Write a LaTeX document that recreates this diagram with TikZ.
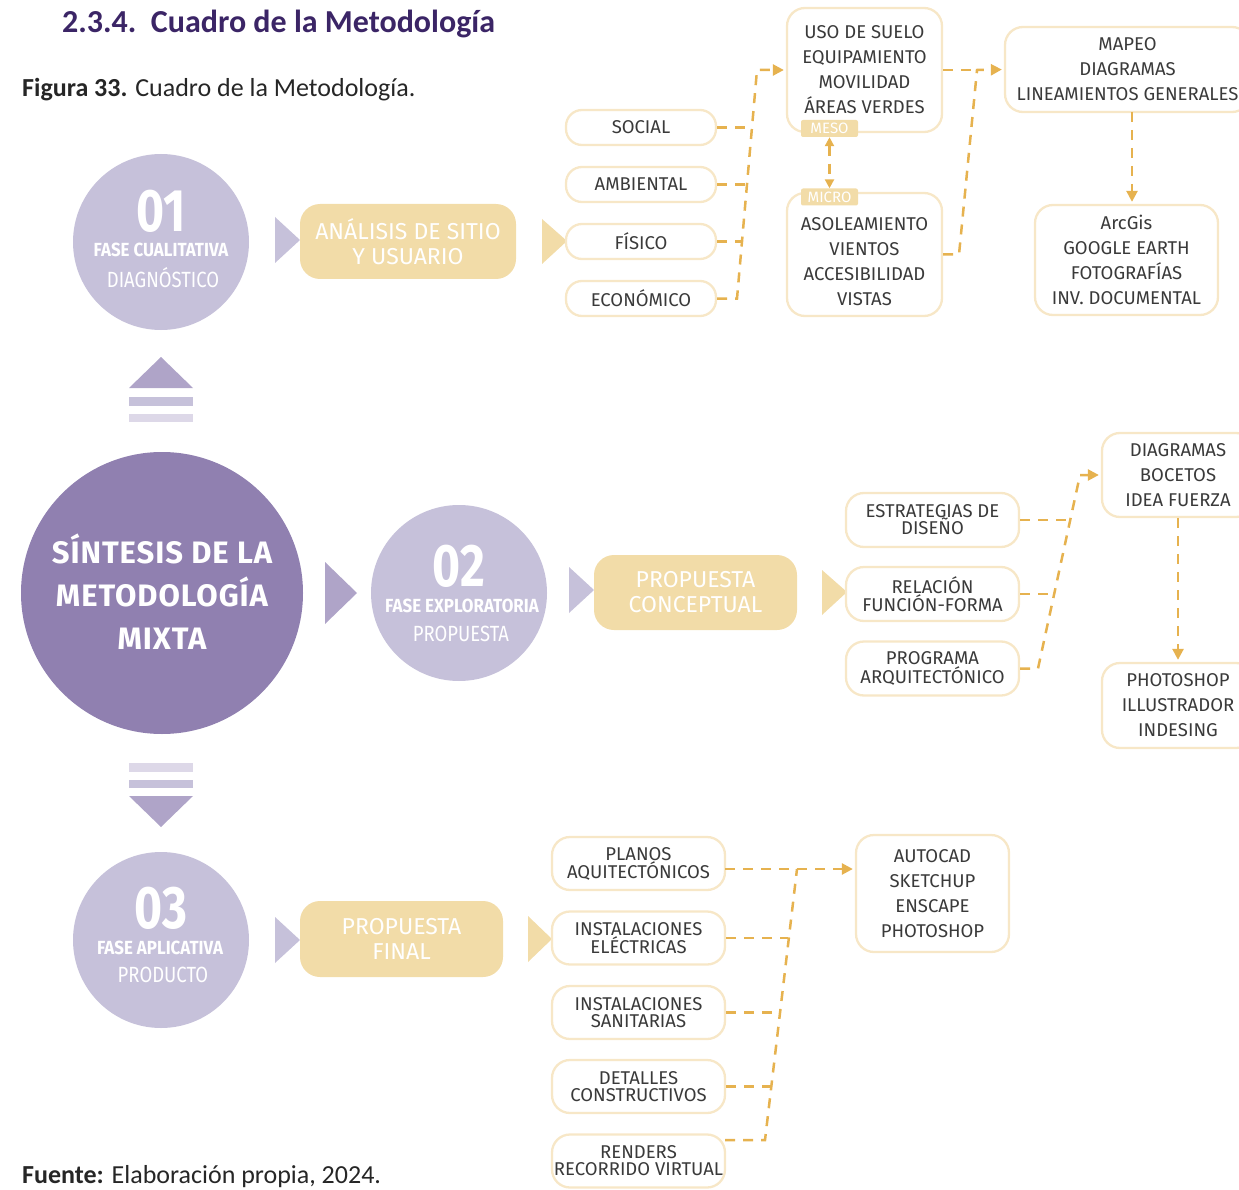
\documentclass[tikz,border=0pt]{standalone}
\usepackage{fontspec}
\usepackage{graphicx}
\setmainfont{Fira Sans}
\newfontfamily\capfont{Carlito}
\usetikzlibrary{arrows.meta}

\definecolor{titlepurple}{HTML}{3B2566}
\definecolor{deeppurple}{HTML}{9080B0}
\definecolor{midpurple}{HTML}{AFA4C8}
\definecolor{softpurple}{HTML}{C6C1DA}
\definecolor{palepurple}{HTML}{DDD8E8}
\definecolor{sand}{HTML}{F2DCA8}
\definecolor{sandline}{HTML}{F7E7C7}
\definecolor{dashc}{HTML}{E6B24F}
\definecolor{ink}{HTML}{3A3A3A}

\begin{document}
\begin{tikzpicture}[x=1pt,y=-1pt,
  boxtext/.style={font=\fontsize{18.5}{25}\selectfont, text=ink, align=center},
  pill/.style={draw=sandline, line width=2.3pt, fill=white, rounded corners=16pt,
    minimum width=150pt, minimum height=35pt, inner sep=0pt, boxtext},
  tallpill/.style={draw=sandline, line width=2.3pt, fill=white, rounded corners=18pt,
    minimum width=173pt, minimum height=54pt, inner sep=0pt, boxtext,
    font=\fontsize{18.5}{17}\selectfont},
  listbox/.style={draw=sandline, line width=2.3pt, fill=white, rounded corners=18pt,
    inner sep=0pt, boxtext},
  stagebox/.style={fill=sand, rounded corners=20pt, inner sep=0pt, text=white,
    align=center, font=\fontsize{23}{25}\selectfont},
  tag/.style={fill=sand, rounded corners=2pt, minimum width=57pt, minimum height=17pt,
    inner sep=0pt, text=white, font=\fontsize{15}{15}\selectfont},
  link/.style={draw=dashc, line width=2.5pt, dash pattern=on 10pt off 8pt},
  tip/.style={-{Triangle[length=11pt,width=11pt]}, shorten >=2pt},
  phase/.style={circle, fill=softpurple, minimum size=176pt, inner sep=0pt},
  phnum/.style={text=white, inner sep=0pt, font=\bfseries\fontsize{60}{60}\selectfont},
  phname/.style={text=white, inner sep=0pt, font=\bfseries\fontsize{19}{19}\selectfont},
  phsub/.style={text=white, inner sep=0pt, font=\fontsize{22}{22}\selectfont},
]
\useasboundingbox (0,0) rectangle (1239,1190);
\clip (0,0) rectangle (1239,1190);

% headings
\node[anchor=west, inner sep=0pt, font=\capfont\bfseries\fontsize{32}{32}\selectfont,
  text=titlepurple] (title) at (62,24) {2.3.4.\ \ Cuadro de la Metodología};
\node[anchor=west, inner sep=0pt, font=\capfont\fontsize{26}{26}\selectfont,
  text=black!85] (caption) at (22,90) {\textbf{Figura 33.} Cuadro de la Metodología.};
\node[anchor=west, inner sep=0pt, font=\capfont\fontsize{26}{26}\selectfont,
  text=black!85] (source) at (22,1177) {\textbf{Fuente:} Elaboración propia, 2024.};

% central circle and the up / down markers
\node[circle, fill=deeppurple, minimum size=282pt, inner sep=0pt] (core) at (162,593) {};
\node[text=white, align=center, inner sep=0pt,
  font=\bfseries\fontsize{31}{43}\selectfont\addfontfeature{LetterSpace=3}] (coretxt) at (162,592)
  {SÍNTESIS DE LA\\METODOLOGÍA\\MIXTA};

\fill[midpurple] (129,388) -- (161,357) -- (193,388) -- cycle;
\fill[softpurple] (129,397) rectangle (193,406);
\fill[palepurple] (129,414) rectangle (193,422);
\fill[palepurple] (129,763) rectangle (193,772);
\fill[softpurple] (129,780) rectangle (193,788);
\fill[midpurple] (129,796) -- (161,827) -- (193,796) -- cycle;

% phase circles
\node[phase] (p1) at (161,242) {};
\node[phnum] (p1num) at (161,211) {\scalebox{0.8}[1]{01}};
\node[phname] (p1name) at (161,250) {\scalebox{0.89}[1]{FASE CUALITATIVA}};
\node[phsub] (p1sub) at (163,278) {\scalebox{0.84}[1]{DIAGNÓSTICO}};

\node[phase] (p2) at (459,593) {};
\node[phnum] (p2num) at (459,566) {\scalebox{0.8}[1]{02}};
\node[phname] (p2name) at (462,606) {\scalebox{0.89}[1]{FASE EXPLORATORIA}};
\node[phsub] (p2sub) at (461,634) {\scalebox{0.84}[1]{PROPUESTA}};

\node[phase] (p3) at (161,940) {};
\node[phnum] (p3num) at (161,908) {\scalebox{0.8}[1]{03}};
\node[phname] (p3name) at (160,948) {\scalebox{0.89}[1]{FASE APLICATIVA}};
\node[phsub] (p3sub) at (163,975) {\scalebox{0.84}[1]{PRODUCTO}};

% pointers
\fill[softpurple] (275,217) -- (300,240) -- (275,263) -- cycle;
\fill[sand] (542,219) -- (567,241) -- (542,264) -- cycle;
\fill[midpurple] (325,562) -- (357,593) -- (325,624) -- cycle;
\fill[softpurple] (569,567) -- (594,590) -- (569,613) -- cycle;
\fill[sand] (822,570) -- (847,592) -- (822,615) -- cycle;
\fill[softpurple] (275,917) -- (300,940) -- (275,963) -- cycle;
\fill[sand] (528,916) -- (552,939) -- (528,962) -- cycle;

% stage boxes
\node[stagebox, minimum width=216pt, minimum height=75pt] (analysis) at (408,241.5)
  {ANÁLISIS DE SITIO\\Y USUARIO};
\node[stagebox, minimum width=203pt, minimum height=75pt] (concept) at (695.5,592.5)
  {PROPUESTA\\CONCEPTUAL};
\node[stagebox, minimum width=203pt, minimum height=76pt] (final) at (401.5,939)
  {PROPUESTA\\FINAL};

% ---- first branch
\node[pill] (social) at (641,127.5) {SOCIAL};
\node[pill] (amb) at (641,184.5) {AMBIENTAL};
\node[pill] (fis) at (641,241.5) {FÍSICO};
\node[pill] (eco) at (641,298.5) {ECONÓMICO};

\node[listbox, minimum width=155pt, minimum height=124pt] (uso) at (864.5,70)
  {USO DE SUELO\\EQUIPAMIENTO\\MOVILIDAD\\ÁREAS VERDES};
\node[listbox, minimum width=155pt, minimum height=123pt] (micro) at (864.5,254.5) {};
\node[boxtext, inner sep=0pt] (microtxt) at (864.5,262)
  {ASOLEAMIENTO\\VIENTOS\\ACCESIBILIDAD\\VISTAS};
\node[tag] (mesotag) at (829.5,128.5) {MESO};
\node[tag] (microtag) at (829.5,197) {MICRO};

\node[listbox, minimum width=245pt, minimum height=85pt] (mapeo) at (1127.5,69.5)
  {MAPEO\\DIAGRAMAS\\LINEAMIENTOS GENERALES};
\node[listbox, minimum width=183pt, minimum height=110pt] (arcgis) at (1126.5,260)
  {ArcGis\\GOOGLE EARTH\\FOTOGRAFÍAS\\INV. DOCUMENTAL};

\coordinate (jA1) at (752,127.5);
\coordinate (jA2) at (747,184.5);
\coordinate (jA3) at (742,241.5);
\coordinate (jA4) at (737,298.5);
\coordinate (jAtop) at (757,70);
\draw[link] (social.east) -- (jA1);
\draw[link] (amb.east) -- (jA2);
\draw[link] (fis.east) -- (jA3);
\draw[link, tip] (eco.east) -- (jA4) -- (jAtop) -- (uso.west);

\draw[link, {Triangle[length=9pt,width=9pt]}-{Triangle[length=9pt,width=9pt]}]
  (mesotag.south) -- (microtag.north);

\coordinate (jBlow) at (959,254.5);
\coordinate (jBtop) at (977,70);
\draw[link] (uso.east) -- (jBtop);
\draw[link, tip] (micro.east) -- (jBlow) -- (jBtop) -- (mapeo.west);

\coordinate (mapeoOut) at (1132,112);
\draw[link, tip] (mapeoOut) -- (arcgis.north -| mapeoOut);

% ---- second branch
\node[tallpill] (estr) at (932.5,520) {ESTRATEGIAS DE\\DISEÑO};
\node[tallpill] (rel) at (932.5,594) {RELACIÓN\\FUNCIÓN-FORMA};
\node[tallpill] (prog) at (932.5,668.5) {PROGRAMA\\ARQUITECTÓNICO};

\node[listbox, minimum width=152pt, minimum height=84pt] (diag) at (1178,475)
  {DIAGRAMAS\\BOCETOS\\IDEA FUERZA};
\node[listbox, minimum width=152pt, minimum height=85pt] (photo) at (1178,705.5)
  {PHOTOSHOP\\ILLUSTRADOR\\INDESING};

\coordinate (jC1) at (1070,520);
\coordinate (jC2) at (1054,594);
\coordinate (jC3) at (1038,668.5);
\coordinate (jCtop) at (1080,475);
\draw[link] (estr.east) -- (jC1);
\draw[link] (rel.east) -- (jC2);
\draw[link, tip] (prog.east) -- (jC3) -- (jCtop) -- (diag.west);
\draw[link, tip] (diag.south) -- (photo.north);

% ---- third branch
\node[tallpill, minimum height=53pt] (planos) at (638.5,863.5) {PLANOS\\AQUITECTÓNICOS};
\node[tallpill, minimum height=53pt] (elec) at (638.5,938) {INSTALACIONES\\ELÉCTRICAS};
\node[tallpill, minimum height=53pt] (sani) at (638.5,1012.5) {INSTALACIONES\\SANITARIAS};
\node[tallpill, minimum height=53pt] (det) at (638.5,1086.5) {DETALLES\\CONSTRUCTIVOS};
\node[tallpill, minimum height=53pt] (rend) at (638.5,1161) {RENDERS\\RECORRIDO VIRTUAL};

\node[listbox, minimum width=153pt, minimum height=117pt] (autocad) at (932.5,893.5)
  {AUTOCAD\\SKETCHUP\\ENSCAPE\\PHOTOSHOP};

\coordinate (planosOut) at (725,869);
\coordinate (rendOut) at (725,1140);
\coordinate (jD1) at (788,938);
\coordinate (jD2) at (779,1012.5);
\coordinate (jD3) at (771,1086.5);
\coordinate (jD4) at (765,1140);
\coordinate (jDtop) at (797,869);
\draw[link, tip] (planosOut) -- (planosOut -| autocad.west);
\draw[link] (elec.east) -- (jD1);
\draw[link] (sani.east) -- (jD2);
\draw[link] (det.east) -- (jD3);
\draw[link] (rendOut) -- (jD4) -- (jDtop);
\end{tikzpicture}
\end{document}
